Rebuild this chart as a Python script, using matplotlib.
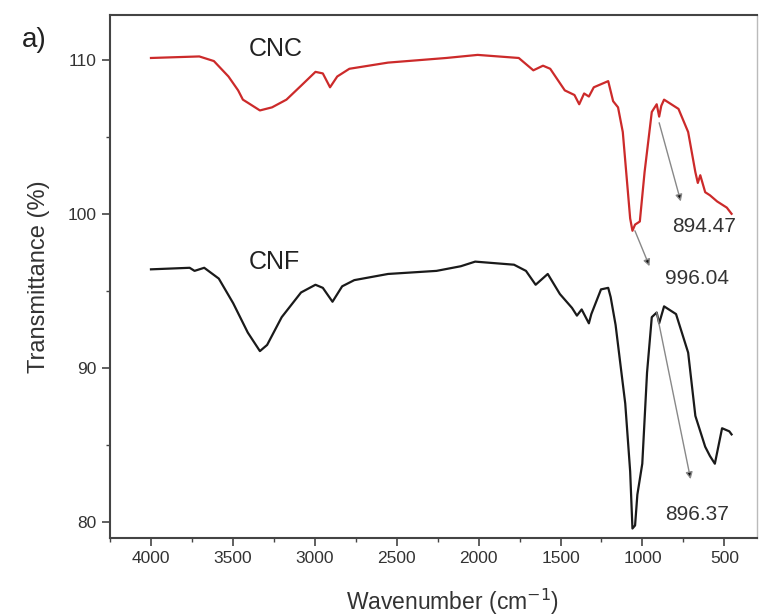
import matplotlib
matplotlib.use('Agg')
import matplotlib.pyplot as plt
from matplotlib.ticker import MultipleLocator

# CNC spectrum
cnc_wn = [4000, 3705, 3616, 3527, 3468, 3439, 3409, 3335, 3261, 3173, 3084, 2996, 2951,
          2907, 2863, 2789, 2553, 2198, 2006, 1755, 1666, 1607, 1563, 1474, 1415, 1386,
          1356, 1327, 1297, 1209, 1179, 1149, 1120, 1075, 1061, 1045, 1016, 987, 943,
          913, 898, 885, 868, 780, 721, 677, 662, 647, 617, 588, 544, 485, 456]
cnc_t = [110.1, 110.2, 109.9, 108.9, 108.0, 107.4, 107.2, 106.7, 106.9, 107.4, 108.3, 109.2, 109.1,
         108.2, 108.9, 109.4, 109.8, 110.1, 110.3, 110.1, 109.3, 109.6, 109.4, 108.0, 107.7, 107.1,
         107.8, 107.6, 108.2, 108.6, 107.3, 106.9, 105.3, 99.7, 98.9, 99.3, 99.5, 102.7, 106.6,
         107.1, 106.3, 107.0, 107.4, 106.8, 105.3, 102.7, 102.0, 102.5, 101.4, 101.2, 100.8, 100.4, 100.0]

# CNF spectrum
cnf_wn = [4000, 3764, 3734, 3675, 3586, 3498, 3409, 3335, 3291, 3202, 3084, 2996, 2951,
          2892, 2833, 2759, 2553, 2257, 2109, 2021, 1784, 1711, 1652, 1578, 1504, 1430,
          1400, 1371, 1327, 1312, 1253, 1209, 1194, 1164, 1134, 1105, 1075, 1061, 1045,
          1031, 1001, 972, 943, 913, 898, 868, 795, 721, 677, 662, 617, 588, 558, 514, 470, 456]
cnf_t = [96.4, 96.5, 96.3, 96.5, 95.8, 94.2, 92.3, 91.1, 91.5, 93.3, 94.9, 95.4, 95.2,
         94.3, 95.3, 95.7, 96.1, 96.3, 96.6, 96.9, 96.7, 96.3, 95.4, 96.1, 94.8, 93.9,
         93.4, 93.8, 92.9, 93.5, 95.1, 95.2, 94.6, 92.8, 90.2, 87.7, 83.3, 79.6, 79.8,
         81.8, 83.8, 89.7, 93.3, 93.6, 92.9, 94.0, 93.5, 91.0, 86.9, 86.4, 84.9, 84.3, 83.8, 86.1, 85.9, 85.7]

# peak labels: (text, arrow start wn, T, arrow end wn, T, text wn, T)
peaks = [("894.47", 898, 105.9, 766, 100.8, 625, 99.2),
         ("996.04", 1046, 98.9, 957, 96.6, 665, 95.8),
         ("896.37", 913, 93.6, 706, 82.8, 665, 80.5)]

plt.rcParams['font.family'] = ['Liberation Sans', 'DejaVu Sans']

fig = plt.figure(figsize=(7.64, 6.16), dpi=100)
ax = fig.add_axes([0.144, 0.127, 0.847, 0.849])

ax.plot(cnc_wn, cnc_t, color='#cc2a2a', linewidth=1.6)
ax.plot(cnf_wn, cnf_t, color='#1a1a1a', linewidth=1.6)

for label, x0, y0, x1, y1, tx, ty in peaks:
    ax.annotate('', xy=(x1, y1), xytext=(x0, y0),
                arrowprops=dict(arrowstyle='-|>', ec='#888888', fc='#111111', lw=1.0,
                                mutation_scale=10, shrinkA=0, shrinkB=0))
    ax.text(tx, ty, label, fontsize=15, color='#333333', ha='center', va='center')

ax.text(3238, 110.7, "CNC", fontsize=18, color='#222222', ha='center', va='center')
ax.text(3247, 96.9, "CNF", fontsize=18, color='#222222', ha='center', va='center')

ax.set_xlim(4250, 300)
ax.set_ylim(79.0, 112.9)
ax.xaxis.set_major_locator(MultipleLocator(500))
ax.xaxis.set_minor_locator(MultipleLocator(250))
ax.yaxis.set_major_locator(MultipleLocator(10))
ax.yaxis.set_minor_locator(MultipleLocator(5))
ax.tick_params(which='both', direction='out', colors='#444444', labelsize=12.5, labelcolor='#333333')
ax.tick_params(which='major', length=6, width=1.2)
ax.tick_params(which='minor', length=3, width=1.0)

for side in ['left', 'bottom', 'top']:
    ax.spines[side].set_color('#444444')
    ax.spines[side].set_linewidth(1.5)
ax.spines['right'].set_color('#bbbbbb')
ax.spines['right'].set_linewidth(1.0)

ax.set_xlabel("Wavenumber (cm$^{-1}$)", fontsize=16.5, color='#333333')
ax.set_ylabel("Transmittance (%)", fontsize=17, color='#333333')
ax.xaxis.set_label_coords(0.53, -0.094)
ax.yaxis.set_label_coords(-0.093, 0.5)

fig.text(0.028, 0.935, "a)", fontsize=20, color='#222222', ha='left', va='center')

fig.savefig('out.png', dpi=100, facecolor='white')
plt.close(fig)
